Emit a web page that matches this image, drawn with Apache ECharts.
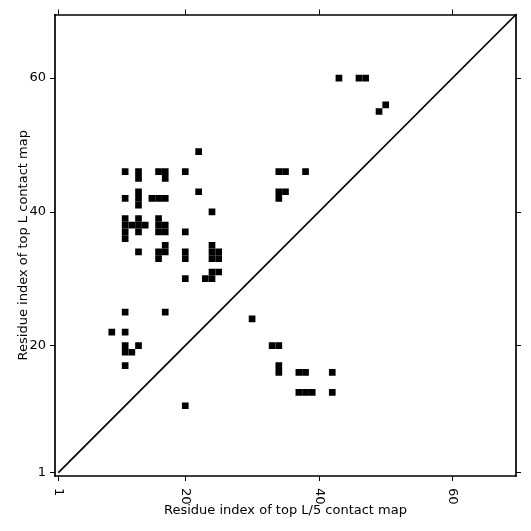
<!DOCTYPE html>
<html>
<head>
<meta charset="utf-8">
<script src="https://cdn.jsdelivr.net/npm/echarts@6/dist/echarts.min.js"></script>
<style>
html,body{margin:0;padding:0;background:#fff;}
#chart{width:531px;height:531px;}
</style>
</head>
<body>
<div id="chart"></div>
<script>
// Residue length of the map
const residueCount = 69;
// Tick labels
const tickValues = [1, 20, 40, 60];
// Contact cells: x residue index (top L/5 map) and y residue index (top L map)
const contactX = [
  22, 11, 13, 13, 16, 17, 17, 20, 22, 11, 13, 13, 13, 15, 16, 17, 24,
  11, 11, 11, 11, 12, 13, 13, 13, 14, 16, 16, 16, 17, 17, 20, 13,
  17, 16, 17, 16, 20, 20, 24, 24, 24, 25, 25, 20, 23, 24, 24, 25,
  34, 35, 38, 34, 35, 34,
  43, 46, 47, 50, 49,
  11, 17, 9, 11, 11, 11, 12, 13, 11,
  30, 33, 34, 34, 34, 37, 38, 42, 37, 38, 39, 42, 20
];
const contactY = [
  49, 46, 46, 45, 46, 46, 45, 46, 43, 42, 43, 42, 41, 42, 42, 42, 40,
  39, 38, 37, 36, 38, 39, 38, 37, 38, 39, 38, 37, 38, 37, 37, 34,
  35, 34, 34, 33, 34, 33, 35, 34, 33, 34, 33, 30, 30, 30, 31, 31,
  46, 46, 46, 43, 43, 42,
  60, 60, 60, 56, 55,
  25, 25, 22, 22, 20, 19, 19, 20, 17,
  24, 20, 20, 17, 16, 16, 16, 16, 13, 13, 13, 13, 11
];
// Diagonal reference line
const diagonal = [[1, 1], [residueCount + 0.5, residueCount + 0.5]];

const cells = contactX.map((x, i) => [x, contactY[i]]);
const font = 'DejaVu Sans';
const axisMin = 0.5, axisMax = residueCount + 0.5;

function mainAxis(pos, name) {
  const isX = pos === 'bottom';
  return {
    type: 'value', position: pos, min: axisMin, max: axisMax,
    splitLine: { show: false },
    axisLine: { show: true, onZero: false, lineStyle: { color: '#000', width: 1.7 } },
    axisTick: { show: true, customValues: tickValues, length: 5, lineStyle: { color: '#000', width: 1 } },
    axisLabel: {
      customValues: tickValues, color: '#000', fontSize: 13, fontFamily: font,
      rotate: isX ? -90 : 0, margin: isX ? 12 : 9
    },
    name: name, nameLocation: 'middle', nameGap: isX ? 28 : 25,
    nameMoveOverlap: false,
    nameTextStyle: { color: '#000', fontSize: 13, fontFamily: font }
  };
}
function mirrorAxis(pos) {
  return {
    type: 'value', position: pos, min: axisMin, max: axisMax,
    splitLine: { show: false },
    axisLine: { show: true, onZero: false, lineStyle: { color: '#000', width: 1.7 } },
    axisTick: { show: true, customValues: tickValues, length: 5, lineStyle: { color: '#000', width: 1 } },
    axisLabel: { show: false }
  };
}

const chart = echarts.init(document.getElementById('chart'));
chart.setOption({
  animation: false,
  backgroundColor: '#fff',
  grid: { left: 55, right: 15, top: 14.5, bottom: 55, containLabel: false },
  xAxis: [mainAxis('bottom', 'Residue index of top L/5 contact map'), mirrorAxis('top')],
  yAxis: [mainAxis('left', 'Residue index of top L contact map'), mirrorAxis('right')],
  series: [
    {
      type: 'custom',
      data: cells,
      clip: true,
      renderItem: function (params, api) {
        const x = api.value(0), y = api.value(1);
        const p0 = api.coord([x - 0.5, y + 0.5]);
        const p1 = api.coord([x + 0.5, y - 0.5]);
        return {
          type: 'rect',
          shape: { x: p0[0], y: p0[1], width: p1[0] - p0[0], height: p1[1] - p0[1] },
          style: { fill: '#000' }
        };
      }
    },
    {
      type: 'line',
      data: diagonal,
      symbol: 'none',
      clip: true,
      lineStyle: { color: '#000', width: 1.7 }
    }
  ]
});
</script>
</body>
</html>
